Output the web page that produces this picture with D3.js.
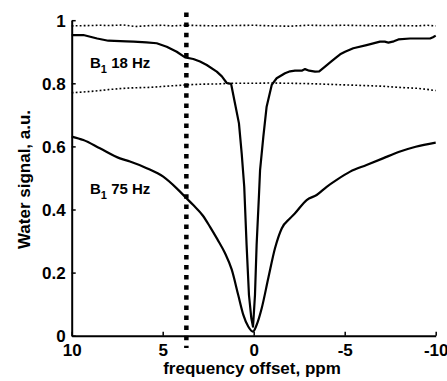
<!DOCTYPE html>
<html>
<head>
<meta charset="utf-8">
<script src="https://cdn.jsdelivr.net/npm/d3@7"></script>
<style>
  html, body { margin: 0; padding: 0; background: #fff; }
  svg { display: block; }
  text { font-family: "Liberation Sans", Arial, Helvetica, sans-serif; font-weight: bold; fill: #000; }
</style>
</head>
<body>
<svg id="chart" width="447" height="381"></svg>
<script>
// ---- data ----
const ppm18 = [10, 9.36, 8.6, 7.99, 7.0, 6.6, 5.9, 5.33, 4.78, 4.23, 3.77, 3.32, 2.95, 2.58, 2.03, 1.75, 1.48, 1.24, 1.03, 0.81, 0.66, 0.52, 0.39, 0.26, 0.13, 0.04, 0.02, -0.07, -0.16, -0.29, -0.35, -0.53, -0.71, -0.99, -1.26, -1.72, -2.0, -2.27, -2.64, -2.82, -3.05, -3.37, -3.6, -3.92, -4.2, -4.47, -4.75, -5.02, -5.47, -6.2, -6.94, -7.2, -7.4, -7.7, -7.95, -8.59, -9.1, -9.69, -9.85, -10];
const val18 = [0.953, 0.953, 0.942, 0.935, 0.933, 0.932, 0.930, 0.927, 0.916, 0.900, 0.882, 0.877, 0.869, 0.858, 0.837, 0.822, 0.801, 0.798, 0.737, 0.673, 0.578, 0.472, 0.287, 0.129, 0.055, 0.029, 0.044, 0.129, 0.287, 0.446, 0.525, 0.631, 0.726, 0.795, 0.816, 0.832, 0.838, 0.840, 0.840, 0.845, 0.840, 0.837, 0.838, 0.853, 0.866, 0.879, 0.892, 0.900, 0.911, 0.921, 0.932, 0.932, 0.929, 0.933, 0.939, 0.942, 0.942, 0.942, 0.946, 0.951];

const ppm75 = [10, 9.36, 8.45, 7.35, 6.8, 5.88, 4.97, 4.23, 3.68, 3.32, 2.8, 2.4, 2.0, 1.58, 1.21, 0.85, 0.57, 0.3, 0.04, -0.16, -0.44, -0.8, -1.17, -1.54, -2.0, -2.27, -2.91, -3.46, -4.01, -4.56, -5.3, -6.2, -7.1, -8.0, -8.9, -10];
const val75 = [0.631, 0.620, 0.594, 0.562, 0.552, 0.531, 0.504, 0.467, 0.435, 0.414, 0.381, 0.345, 0.306, 0.262, 0.210, 0.129, 0.066, 0.029, 0.013, 0.034, 0.087, 0.182, 0.277, 0.340, 0.372, 0.388, 0.430, 0.446, 0.472, 0.494, 0.520, 0.541, 0.562, 0.583, 0.599, 0.612];

const refPpm = [10, 9, 8.45, 8, 7.16, 6.5, 5.7, 5, 4.5, 3.68, 3, 2, 1.3, 0, -1, -2, -3, -4, -5, -6, -7, -8, -9, -9.5, -10];
const ref18  = [0.982, 0.983, 0.984, 0.983, 0.985, 0.980, 0.983, 0.984, 0.982, 0.984, 0.983, 0.982, 0.983, 0.984, 0.982, 0.981, 0.984, 0.983, 0.984, 0.983, 0.982, 0.983, 0.982, 0.984, 0.982];
const ref75  = [0.770, 0.774, 0.777, 0.780, 0.784, 0.786, 0.787, 0.790, 0.792, 0.795, 0.797, 0.798, 0.800, 0.800, 0.801, 0.800, 0.799, 0.797, 0.795, 0.793, 0.791, 0.787, 0.784, 0.781, 0.777];

const markerPpm = 3.7;
const xTicks = [10, 5, 0, -5, -10];
const xTickLabels = ["10", "5", "0", "-5", "-10"];
const yTicks = [0, 0.2, 0.4, 0.6, 0.8, 1];
const yTickLabels = ["0", "0.2", "0.4", "0.6", "0.8", "1"];
const curveLabels = [{name: "18 Hz", v: 0.865}, {name: "75 Hz", v: 0.466}];

// ---- drawing ----
const svg = d3.select("#chart");
const x = d3.scaleLinear().domain([10, -10]).range([71.7, 435.7]);
const y = d3.scaleLinear().domain([0, 1]).range([335.7, 20.2]);

const line = d3.line().x(d => x(d[0])).y(d => y(d[1]));
const smooth = d3.line().x(d => x(d[0])).y(d => y(d[1])).curve(d3.curveMonotoneX);
const zip = (a, b) => a.map((v, i) => [v, b[i]]);

// reference dotted lines
[ref18, ref75].forEach(r => {
  svg.append("path").attr("d", line(zip(refPpm, r)))
    .attr("fill", "none").attr("stroke", "#000")
    .attr("stroke-width", 1.6).attr("stroke-dasharray", "1.8,2.2");
});

// curves
svg.append("path").attr("d", line(zip(ppm18, val18)))
  .attr("fill", "none").attr("stroke", "#000")
  .attr("stroke-width", 2.2).attr("stroke-linejoin", "round");
svg.append("path").attr("d", smooth(zip(ppm75, val75)))
  .attr("fill", "none").attr("stroke", "#000")
  .attr("stroke-width", 2.2).attr("stroke-linejoin", "round");

// vertical thick dotted marker
svg.append("line")
  .attr("x1", x(markerPpm)).attr("x2", x(markerPpm))
  .attr("y1", 12.5).attr("y2", 348)
  .attr("stroke", "#000").attr("stroke-width", 4.5)
  .attr("stroke-dasharray", "4.5,5.6");

// axes
const xAxis = d3.axisBottom(x).tickValues(xTicks)
  .tickFormat((d, i) => xTickLabels[i]).tickSizeInner(-4).tickSizeOuter(0).tickPadding(8);
const yAxis = d3.axisLeft(y).tickValues(yTicks)
  .tickFormat((d, i) => yTickLabels[i]).tickSizeInner(-4).tickSizeOuter(0).tickPadding(6);

const gx = svg.append("g").attr("transform", `translate(0,${y(0)})`).call(xAxis);
const gy = svg.append("g").attr("transform", `translate(${x(10)},0)`).call(yAxis);
[gx, gy].forEach(g => {
  g.select(".domain").attr("stroke-width", 2);
  g.selectAll(".tick line").attr("stroke-width", 1.5);
  g.selectAll(".tick text").attr("font-size", 17).attr("font-family", null).attr("font-weight", null);
});
gx.selectAll(".tick text").attr("dy", "0.7em");
gy.selectAll(".tick text").attr("dy", "0.36em");

// axis titles
svg.append("text").attr("x", 252).attr("y", 374).attr("text-anchor", "middle")
  .attr("font-size", 17).text("frequency offset, ppm");
svg.append("text").attr("transform", "translate(30,179.5) rotate(-90)")
  .attr("text-anchor", "middle").attr("font-size", 17).text("Water signal, a.u.");

// curve labels
curveLabels.forEach(c => {
  const t = svg.append("text").attr("x", 90).attr("y", y(c.v) + 5).attr("font-size", 15);
  t.append("tspan").text("B");
  t.append("tspan").attr("font-size", 11).attr("dy", 5).text("1");
  t.append("tspan").attr("dy", -5).text(" " + c.name);
});
</script>
</body>
</html>
